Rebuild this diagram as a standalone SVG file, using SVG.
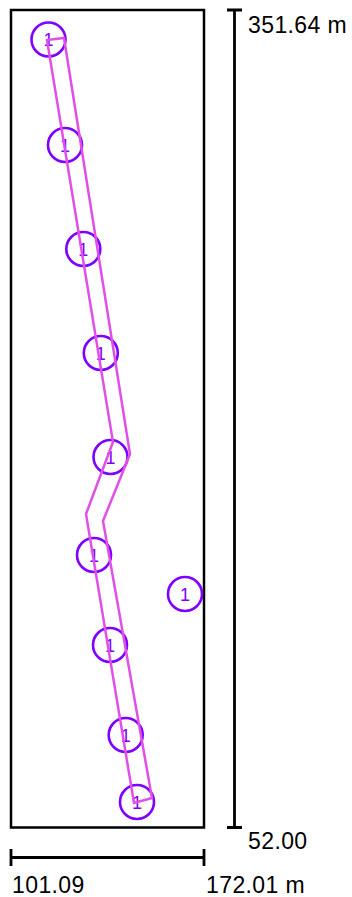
<svg xmlns="http://www.w3.org/2000/svg" width="352" height="897" viewBox="0 0 352 897">
<style>
.frame{fill:none;stroke:#000;stroke-width:2.5}
.bar{fill:none;stroke:#000;stroke-width:2.8}
.lbl{font-family:"Liberation Sans",Arial,sans-serif;font-size:23px;letter-spacing:0.4px;fill:#000}
.node circle{fill:none;stroke:#7F00FF;stroke-width:2.6}
.node text{font-family:"Liberation Sans",Arial,sans-serif;font-size:18px;fill:#7F00FF;text-anchor:middle}
.route{fill:none;stroke:#E050E6;stroke-width:2.5;stroke-linejoin:miter}
</style>
<rect class="frame" x="11" y="10" width="193" height="817.5"/>
<g id="scale-vertical">
<path class="bar" d="M234.5 10V827.5M227 10H242M227 827.5H242"/>
<text class="lbl" x="248" y="33">351.64 m</text>
<text class="lbl" x="248" y="849">52.00</text>
</g>
<g id="scale-horizontal">
<path class="bar" d="M11 857.5H204M11 849V866M204 849V866"/>
<text class="lbl" x="12" y="893">101.09</text>
<text class="lbl" x="206" y="893">172.01 m</text>
</g>
<g id="n1" class="node"><circle cx="48.5" cy="39.5" r="17"/><text x="48.5" y="46">1</text></g>
<g id="n2" class="node"><circle cx="65" cy="145" r="17"/><text x="65" y="151.5">1</text></g>
<g id="n3" class="node"><circle cx="83.3" cy="249" r="17"/><text x="83.3" y="255.5">1</text></g>
<g id="n4" class="node"><circle cx="100.8" cy="353" r="17"/><text x="100.8" y="359.5">1</text></g>
<g id="n5" class="node"><circle cx="110.5" cy="457" r="17"/><text x="110.5" y="463.5">1</text></g>
<g id="n6" class="node"><circle cx="94" cy="555" r="17"/><text x="94" y="561.5">1</text></g>
<g id="n7" class="node"><circle cx="185" cy="594" r="17"/><text x="185" y="600.5">1</text></g>
<g id="n8" class="node"><circle cx="110" cy="645" r="17"/><text x="110" y="651.5">1</text></g>
<g id="n9" class="node"><circle cx="125.7" cy="735" r="17"/><text x="125.7" y="741.5">1</text></g>
<g id="n10" class="node"><circle cx="137" cy="802" r="17"/><text x="137" y="808.5">1</text></g>
<g id="connectors">
<polygon class="route" points="47,40 113,442 86,514 134,803 152,798 103,521 130,454 64,38"/>
</g>
</svg>
